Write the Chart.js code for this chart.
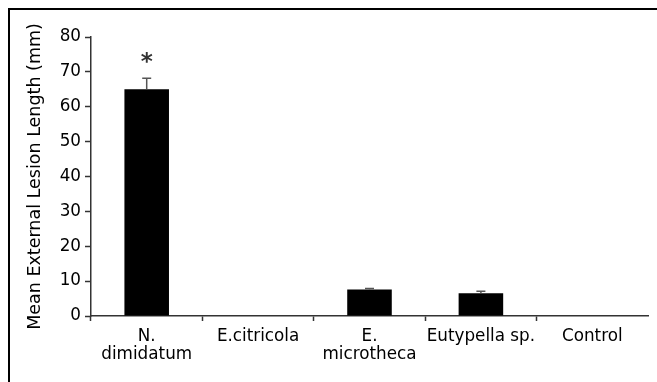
<!DOCTYPE html>
<html>
<head>
<meta charset="utf-8">
<script src="https://cdn.jsdelivr.net/npm/chart.js@4/dist/chart.umd.min.js"></script>
<style>
  html, body { margin: 0; padding: 0; background: #fff; }
  #wrap { position: relative; width: 657px; height: 382px; overflow: hidden; }
  #frame { position: absolute; left: 8px; top: 8px; width: 700px; height: 400px;
           border-left: 2px solid #000; border-top: 2px solid #000; }
  canvas { position: absolute; left: 0; top: 0; }
</style>
</head>
<body>
<div id="wrap">
  <div id="frame"></div>
  <canvas id="chart" width="657" height="382"></canvas>
</div>
<script>
const categories = [['N.', 'dimidatum'], 'E.citricola', ['E.', 'microtheca'], 'Eutypella sp.', 'Control'];
const means = [65, 0, 7.6, 6.5, 0];
const errors = [3.2, 0, 0.3, 0.6, 0];
const marks = ['*', '', '', '', ''];
const yTicks = [0, 10, 20, 30, 40, 50, 60, 70, 80];

const FONT = 'DejaVu Sans';

const errorBars = {
  id: 'errorBars',
  afterDatasetsDraw(chart) {
    const { ctx, scales: { y } } = chart;
    const meta = chart.getDatasetMeta(0);
    ctx.save();
    meta.data.forEach((bar, i) => {
      if (!means[i]) return;
      const top = y.getPixelForValue(means[i] + errors[i]);
      const base = y.getPixelForValue(means[i]);
      ctx.strokeStyle = '#555';
      ctx.lineWidth = 1.5;
      ctx.beginPath();
      ctx.moveTo(bar.x, base);
      ctx.lineTo(bar.x, top);
      ctx.moveTo(bar.x - 4.5, top);
      ctx.lineTo(bar.x + 4.5, top);
      ctx.stroke();
      if (marks[i]) {
        ctx.fillStyle = '#333';
        ctx.font = 'bold 23px ' + FONT;
        ctx.textAlign = 'center';
        ctx.textBaseline = 'alphabetic';
        ctx.fillText(marks[i], bar.x, top - 9);
      }
    });
    ctx.restore();
  }
};

new Chart(document.getElementById('chart').getContext('2d'), {
  type: 'bar',
  data: {
    labels: categories,
    datasets: [{
      data: means,
      backgroundColor: '#000',
      borderWidth: 0,
      categoryPercentage: 1,
      barPercentage: 0.4
    }]
  },
  options: {
    responsive: false,
    animation: false,
    layout: { padding: { left: 19, top: 37, right: 9, bottom: 0 } },
    plugins: { legend: { display: false }, tooltip: { enabled: false } },
    scales: {
      x: {
        afterFit: (s) => { s.height = 66; },
        grid: {
          drawOnChartArea: false,
          tickLength: 5,
          tickWidth: 1.5,
          tickColor: (c) => (c.type === 'tick' ? '#333' : 'transparent')
        },
        border: { color: '#333', width: 1.5 },
        ticks: { color: '#000', padding: 6, maxRotation: 0, autoSkip: false,
                 font: { family: FONT, size: 16.8, lineHeight: 1.1 } }
      },
      y: {
        min: 0,
        max: 80,
        afterFit: (s) => { s.width = 72; },
        afterBuildTicks: (s) => { s.ticks = yTicks.map(v => ({ value: v })); },
        grid: { drawOnChartArea: false, tickLength: 6, tickWidth: 1.5, tickColor: '#333' },
        border: { color: '#333', width: 1.5 },
        ticks: { color: '#000', padding: 4, font: { family: FONT, size: 16.8 } },
        title: {
          display: true,
          text: 'Mean External Lesion Length (mm)',
          color: '#000',
          padding: { top: 6, bottom: 0 },
          font: { family: FONT, size: 17.5 }
        }
      }
    }
  },
  plugins: [errorBars]
});
</script>
</body>
</html>
